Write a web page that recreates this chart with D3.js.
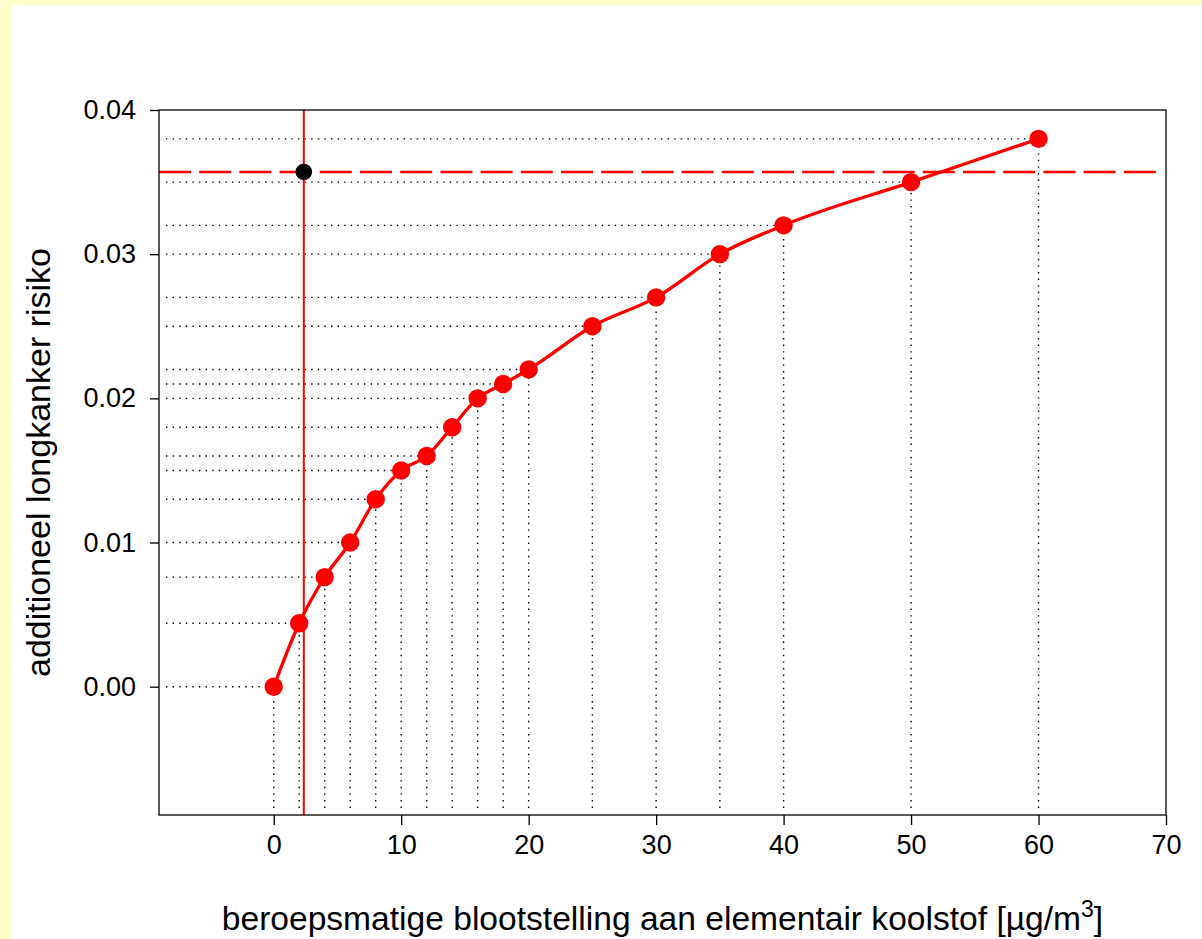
<!DOCTYPE html>
<html>
<head>
<meta charset="utf-8">
<script src="https://cdn.jsdelivr.net/npm/d3@7"></script>
<style>
html,body{margin:0;padding:0;background:#FFFFCC;}
svg{display:block;}
text{font-family:"Liberation Sans", Arial, Helvetica, sans-serif;fill:#000;}
</style>
</head>
<body>
<script>
// Data
const exposure = [0, 2, 4, 6, 8, 10, 12, 14, 16, 18, 20, 25, 30, 35, 40, 50, 60];
const risk = [0, 0.0044, 0.0076, 0.010, 0.013, 0.015, 0.016, 0.018, 0.020, 0.021, 0.022, 0.025, 0.027, 0.030, 0.032, 0.035, 0.038];
const markerExposure = 2.36;
const markerRisk = 0.0357;
const xTicks = [0, 10, 20, 30, 40, 50, 60, 70];
const yTicks = [0, 0.01, 0.02, 0.03, 0.04];
const xTitle = "beroepsmatige blootstelling aan elementair koolstof [µg/m";
const xTitleSup = "3";
const xTitleEnd = "]";
const yTitle = "additioneel longkanker risiko";

const W = 1202, H = 939;
const plot = {left: 159, right: 1166, top: 110, bottom: 815};

const svg = d3.select("body").append("svg").attr("width", W).attr("height", H);
svg.append("rect").attr("x", 0).attr("y", 0).attr("width", W).attr("height", H).attr("fill", "#FFFFCC");
svg.append("rect").attr("x", 11).attr("y", 5).attr("width", W - 11).attr("height", H - 5).attr("fill", "#FFFFFF");

const x = d3.scaleLinear().domain([-9, 70]).range([plot.left, plot.right]);
const y = d3.scaleLinear().domain([-0.0089, 0.04]).range([plot.bottom, plot.top]);

const data = exposure.map((e, i) => ({x: e, y: risk[i]}));

// dotted guide lines
const g = svg.append("g");
g.selectAll("line.h").data(data).enter().append("line")
  .attr("x1", plot.left + 7).attr("x2", d => x(d.x))
  .attr("y1", d => y(d.y)).attr("y2", d => y(d.y))
  .attr("stroke", "#000").attr("stroke-width", 1.4).attr("stroke-dasharray", "1.4,5.2");
g.selectAll("line.v").data(data).enter().append("line")
  .attr("x1", d => x(d.x)).attr("x2", d => x(d.x))
  .attr("y1", plot.bottom - 7).attr("y2", d => y(d.y))
  .attr("stroke", "#000").attr("stroke-width", 1.4).attr("stroke-dasharray", "1.4,5.2");

// red vertical line
svg.append("line").attr("x1", x(markerExposure)).attr("x2", x(markerExposure))
  .attr("y1", plot.top).attr("y2", plot.bottom)
  .attr("stroke", "#FF0000").attr("stroke-width", 2);
// red dashed horizontal line
svg.append("line").attr("x1", plot.left).attr("x2", plot.right - 9)
  .attr("y1", y(markerRisk)).attr("y2", y(markerRisk))
  .attr("stroke", "#FF0000").attr("stroke-width", 2.5).attr("stroke-dasharray", "32,8.2");

// curve
const line = d3.line().x(d => x(d.x)).y(d => y(d.y)).curve(d3.curveMonotoneX);
svg.append("path").datum(data).attr("d", line)
  .attr("fill", "none").attr("stroke", "#FF0000").attr("stroke-width", 3.3);

svg.selectAll("circle.pt").data(data).enter().append("circle")
  .attr("cx", d => x(d.x)).attr("cy", d => y(d.y)).attr("r", 9.2).attr("fill", "#FF0000");

svg.append("circle").attr("cx", x(markerExposure)).attr("cy", y(markerRisk)).attr("r", 8.3).attr("fill", "#000");

// box
svg.append("rect").attr("x", plot.left).attr("y", plot.top)
  .attr("width", plot.right - plot.left).attr("height", plot.bottom - plot.top)
  .attr("fill", "none").attr("stroke", "#000").attr("stroke-width", 1.3);

// axes
const xAxis = d3.axisBottom(x).tickValues(xTicks).tickSize(10).tickSizeOuter(0).tickPadding(10).tickFormat(d3.format("d"));
const xg = svg.append("g").attr("transform", `translate(0,${plot.bottom})`).call(xAxis);
xg.select(".domain").remove();
xg.selectAll("line").attr("stroke", "#000").attr("stroke-width", 1.3);
xg.selectAll("text").attr("font-size", 27).attr("font-family", "Liberation Sans, Arial, sans-serif").attr("fill", "#000");

const yAxis = d3.axisLeft(y).tickValues(yTicks).tickSize(9).tickSizeOuter(0).tickPadding(14).tickFormat(d3.format(".2f"));
const yg = svg.append("g").attr("transform", `translate(${plot.left},0)`).call(yAxis);
yg.select(".domain").remove();
yg.selectAll("line").attr("stroke", "#000").attr("stroke-width", 1.3);
yg.selectAll("text").attr("font-size", 27).attr("font-family", "Liberation Sans, Arial, sans-serif").attr("fill", "#000");

// titles
const xt = svg.append("text").attr("x", (plot.left + plot.right) / 2).attr("y", 930)
  .attr("text-anchor", "middle").attr("font-size", 33.6);
xt.append("tspan").text(xTitle);
xt.append("tspan").text(xTitleSup).attr("font-size", 23).attr("dy", -13);
xt.append("tspan").text(xTitleEnd).attr("dy", 13);

svg.append("text").attr("transform", `translate(50,${(plot.top + plot.bottom) / 2}) rotate(-90)`)
  .attr("text-anchor", "middle").attr("font-size", 34).text(yTitle);
</script>
</body>
</html>
